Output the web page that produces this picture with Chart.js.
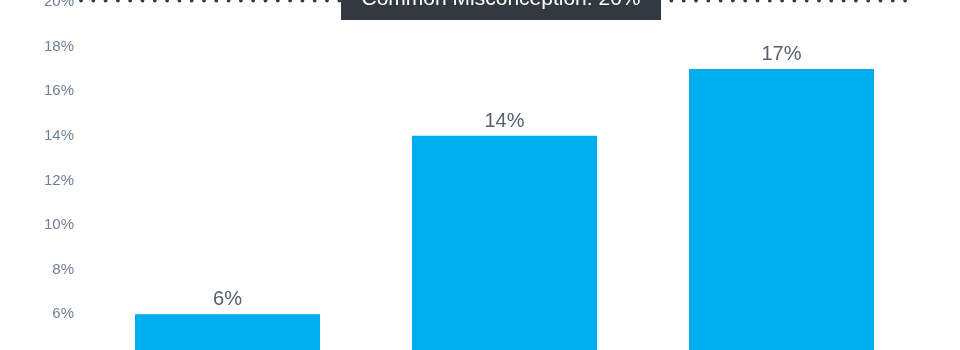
<!DOCTYPE html>
<html>
<head>
<meta charset="utf-8">
<script src="https://cdn.jsdelivr.net/npm/chart.js@4"></script>
<style>
  html, body { margin: 0; padding: 0; background: #ffffff; overflow: hidden; }
  #wrap { position: absolute; left: 0; top: -37px; width: 960px; height: 509px; }
</style>
</head>
<body>
<div id="wrap"><canvas id="c" width="960" height="509"></canvas></div>
<script>
const categories = ["A", "B", "C"];
const values = [6, 14, 17];
const tickValues = [0, 2, 4, 6, 8, 10, 12, 14, 16, 18, 20];
const referenceValue = 20;
const referenceLabel = "Common Misconception: 20%";

const FONT = "'Liberation Sans', Arial, Helvetica, sans-serif";

const overlayPlugin = {
  id: 'overlay',
  afterDatasetsDraw(chart) {
    const ctx = chart.ctx;
    const area = chart.chartArea;
    const y = chart.scales.y;
    const meta = chart.getDatasetMeta(0);
    // value labels
    ctx.save();
    ctx.font = "20px " + FONT;
    ctx.fillStyle = "#556070";
    ctx.textAlign = "center";
    ctx.textBaseline = "alphabetic";
    meta.data.forEach((bar, i) => {
      ctx.fillText(values[i] + "%", bar.x, bar.y - 9);
    });
    ctx.restore();
    // reference dotted line
    const ry = y.getPixelForValue(referenceValue) - 1.5;
    ctx.save();
    ctx.strokeStyle = "#323940";
    ctx.lineWidth = 3.8;
    ctx.lineCap = "round";
    ctx.setLineDash([0, 12.3]);
    ctx.beginPath();
    ctx.moveTo(area.left - 8, ry);
    ctx.lineTo(area.right - 5, ry);
    ctx.stroke();
    ctx.restore();
    // label box
    ctx.save();
    ctx.font = "21px " + FONT;
    const cx = (area.left + area.right) / 2 - 3.5;
    const w = 320, h = 39;
    ctx.fillStyle = "#323940";
    ctx.fillRect(cx - w / 2, ry - h / 2, w, h);
    ctx.fillStyle = "#ffffff";
    ctx.textAlign = "center";
    ctx.textBaseline = "middle";
    ctx.fillText(referenceLabel, cx, ry - 1);
    ctx.restore();
  }
};

new Chart(document.getElementById('c'), {
  type: 'bar',
  data: {
    labels: categories,
    datasets: [{
      data: values,
      backgroundColor: '#00aeef',
      borderWidth: 0,
      barPercentage: 0.668,
      categoryPercentage: 1.0
    }]
  },
  options: {
    responsive: false,
    animation: false,
    devicePixelRatio: 1,
    layout: { padding: { top: 39, right: 40, bottom: 0, left: 0 } },
    plugins: { legend: { display: false }, tooltip: { enabled: false } },
    scales: {
      x: { display: false },
      y: {
        min: 0,
        max: 20,
        afterFit(s) { s.width = 89; },
        afterBuildTicks(s) { s.ticks = tickValues.map(v => ({ value: v })); },
        grid: { display: false, drawTicks: false },
        border: { display: false },
        ticks: {
          padding: 15,
          color: '#718096',
          font: { family: FONT, size: 15 },
          callback: v => v + '%'
        }
      }
    }
  },
  plugins: [overlayPlugin]
});
</script>
</body>
</html>
